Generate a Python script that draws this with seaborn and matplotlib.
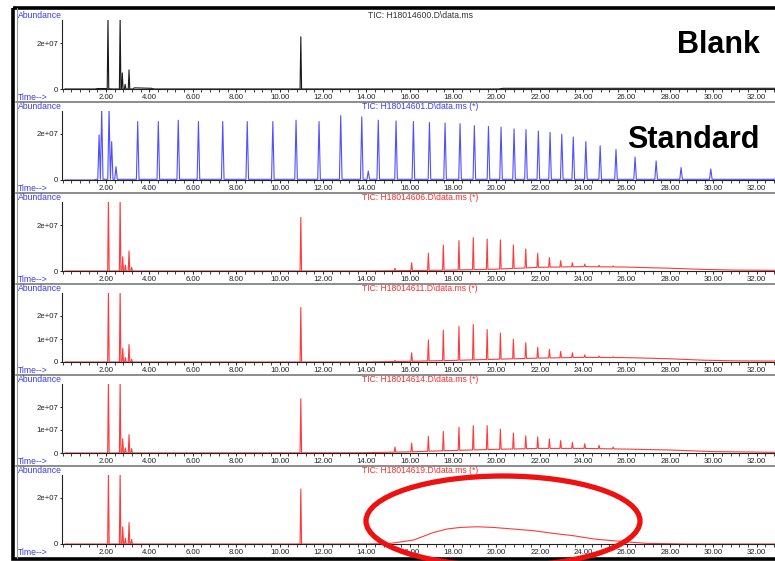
import numpy as np
import pandas as pd
import matplotlib
matplotlib.use("Agg")
import matplotlib.pyplot as plt
import seaborn as sns
from matplotlib.patches import Ellipse, Rectangle
from matplotlib.ticker import MultipleLocator

W, H = 775, 561

# ---- data ----
file_names = ["H18014600", "H18014601", "H18014606", "H18014611", "H18014614", "H18014619"]
file_flags = ["", " (*)", " (*)", " (*)", " (*)", " (*)"]
sample_labels = ["Blank", "Standard", "", "", "", ""]

# early solvent / internal-standard peaks (min, abundance at apex)
blank_peak_t = [2.09, 2.65, 2.75, 2.88, 3.06, 10.98]
blank_peak_h = [3.1e7, 3.1e7, 7.0e6, 2.0e6, 8.3e6, 2.27e7]
blank_base_t = [0.1, 1.5, 1.6, 2.0, 2.3, 3.25, 3.3, 4.1, 4.2, 20.1, 20.3, 32.84]
blank_base_y = [0, 0, 2e5, 2e5, 0, 0, 5e5, 3e5, 0, 0, 3e5, 3e5]

std_peak_t = [1.68, 1.80, 2.14, 2.26, 2.46, 3.46, 4.41, 5.33, 6.26, 7.38, 8.51, 9.69,
              10.76, 11.82, 12.82, 13.79, 14.09, 14.55, 15.37, 16.17, 16.91, 17.63,
              18.32, 18.98, 19.63, 20.21, 20.81, 21.36, 21.93, 22.47, 23.01, 23.54,
              24.12, 24.78, 25.51, 26.39, 27.36, 28.51, 29.88]
std_peak_h = [1.96e7, 3.1e7, 3.1e7, 1.67e7, 5.8e6, 2.54e7, 2.54e7, 2.6e7, 2.54e7, 2.54e7,
              2.54e7, 2.54e7, 2.6e7, 2.54e7, 2.8e7, 2.75e7, 3.9e6, 2.6e7, 2.57e7, 2.54e7,
              2.5e7, 2.48e7, 2.45e7, 2.36e7, 2.33e7, 2.3e7, 2.22e7, 2.19e7, 2.13e7,
              2.07e7, 1.99e7, 1.87e7, 1.67e7, 1.49e7, 1.33e7, 1.0e7, 8.3e6, 5.4e6, 4.8e6]
std_base_t = [0.1, 1.45, 1.55, 32.84]
std_base_y = [0, 0, 3e5, 3e5]

early_t = [2.11, 2.65, 2.77, 2.89, 3.06, 3.18, 10.98]
series_t = [15.32, 16.09, 16.86, 17.55, 18.27, 18.93, 19.57, 20.18, 20.78, 21.35,
            21.90, 22.44, 22.96, 23.50, 24.07, 24.73, 25.38]

s06_early_h = [3.1e7, 3.1e7, 6.2e6, 2.6e6, 8.7e6, 1.6e6, 2.33e7]
s06_series_h = [1.2e6, 3.6e6, 7.7e6, 1.13e7, 1.32e7, 1.45e7, 1.39e7, 1.35e7, 1.13e7,
                9.6e6, 7.7e6, 5.8e6, 4.5e6, 3.6e6, 3.0e6, 2.5e6, 2.2e6]
s06_base_t = [0.1, 14.0, 16.0, 18.0, 20.0, 22.0, 24.0, 26.0, 28.0, 29.5, 31.0, 32.84]
s06_base_y = [0, 0, 2e5, 4e5, 8e5, 1.6e6, 1.9e6, 1.7e6, 1.2e6, 7e5, 4e5, 3e5]

s11_early_h = [3.1e7, 3.1e7, 5.9e6, 1.9e6, 7.6e6, 1.2e6, 2.37e7]
s11_series_h = [7e5, 4.0e6, 9.6e6, 1.38e7, 1.55e7, 1.63e7, 1.41e7, 1.26e7, 9.9e6,
                8.4e6, 6.4e6, 5.5e6, 4.6e6, 4.0e6, 3.1e6, 2.6e6, 2.3e6]
s11_base_t = [0.1, 14.0, 16.0, 18.0, 20.0, 22.0, 24.0, 26.0, 28.0, 29.5, 31.0, 32.84]
s11_base_y = [0, 0, 3e5, 7e5, 1.2e6, 1.7e6, 2.0e6, 1.9e6, 1.4e6, 8e5, 5e5, 4e5]

s14_early_h = [3.1e7, 3.1e7, 6.2e6, 2.2e6, 8.0e6, 1.9e6, 2.36e7]
s14_series_h = [2.6e6, 4.3e6, 7.2e6, 9.4e6, 1.12e7, 1.19e7, 1.19e7, 1.04e7, 8.7e6,
                7.5e6, 7.0e6, 6.1e6, 5.4e6, 4.6e6, 4.0e6, 3.3e6, 2.6e6]
s14_base_t = [0.1, 13.8, 16.0, 18.0, 20.0, 22.0, 24.0, 26.0, 28.0, 30.0, 32.0, 32.84]
s14_base_y = [0, 1e5, 5e5, 1.1e6, 1.6e6, 2.0e6, 2.0e6, 1.7e6, 1.3e6, 6e5, 4e5, 3e5]

s19_early_h = [3.1e7, 3.1e7, 7.5e6, 2.5e6, 9.3e6, 2.0e6, 2.39e7]
s19_hump_t = [0.1, 14.0, 15.09, 16.17, 17.09, 17.71, 18.32, 19.08, 19.86, 20.78, 21.70,
              22.63, 23.55, 24.47, 25.39, 26.32, 26.93, 28.0, 28.73, 32.84]
s19_hump_y = [0, 0, 2.6e5, 1.7e6, 5.0e6, 6.5e6, 7.2e6, 7.5e6, 7.2e6, 6.5e6, 5.8e6,
              4.6e6, 3.6e6, 2.2e6, 1.4e6, 7e5, 2.6e5, 1.3e5, 0, 0]

y_ticks = [[0, 2e7], [0, 2e7], [0, 2e7], [0, 1e7, 2e7], [0, 1e7, 2e7], [0, 2e7]]
y_tick_labels = [["0", "2e+07"], ["0", "2e+07"], ["0", "2e+07"],
                 ["0", "1e+07", "2e+07"], ["0", "1e+07", "2e+07"], ["0", "2e+07"]]


def build_trace(peak_t, peak_h, base_t, base_y, hw):
    bt = np.asarray(base_t, float)
    by = np.asarray(base_y, float)
    pt = np.asarray(peak_t, float) if len(peak_t) else np.array([-99.0])
    keep = np.all(np.abs(bt[:, None] - pt[None, :]) > hw, axis=1)
    xs, ys = list(bt[keep]), list(by[keep])
    for t, h in zip(peak_t, peak_h):
        xs += [t - hw, t, t + hw]
        ys += [np.interp(t - hw, bt, by), h, np.interp(t + hw, bt, by)]
    order = np.argsort(xs, kind="stable")
    return pd.DataFrame({"time": np.array(xs)[order], "abundance": np.array(ys)[order]})


traces = [
    build_trace(blank_peak_t, blank_peak_h, blank_base_t, blank_base_y, 0.035),
    build_trace(std_peak_t, std_peak_h, std_base_t, std_base_y, 0.06),
    build_trace(early_t + series_t, s06_early_h + s06_series_h, s06_base_t, s06_base_y, 0.035),
    build_trace(early_t + series_t, s11_early_h + s11_series_h, s11_base_t, s11_base_y, 0.035),
    build_trace(early_t + series_t, s14_early_h + s14_series_h, s14_base_t, s14_base_y, 0.035),
    build_trace(early_t, s19_early_h, s19_hump_t, s19_hump_y, 0.035),
]

trace_colors = ["#1a1a1a", "#5050ff", "#ff3a3a", "#ff3a3a", "#ff3a3a", "#ff3a3a"]
title_colors = ["#333333", "#3c3cff", "#ff2e2e", "#ff2e2e", "#ff2e2e", "#ff2e2e"]
label_blue = "#3a3aee"

sns.set_theme(style="ticks")
plt.rcParams["font.family"] = ["Liberation Sans", "DejaVu Sans"]

fig = plt.figure(figsize=(W / 100, H / 100), dpi=100)
fig.patch.set_facecolor("white")

baselines = [89, 180, 271, 362, 453, 544]
x_left, x_right = 62, 775
plot_h = 69


def px_rect(x0, y_top, x1, y_bot):
    return [x0 / W, 1 - y_bot / H, (x1 - x0) / W, (y_bot - y_top) / H]


for i, b in enumerate(baselines):
    ax = fig.add_axes(px_rect(x_left, b - plot_h, x_right, b))
    ax.set_facecolor("white")
    sns.lineplot(data=traces[i], x="time", y="abundance", ax=ax, color=trace_colors[i],
                 linewidth=0.8, estimator=None, sort=False)
    ax.set_xlim(-0.03, 32.84)
    ax.set_ylim(0, 3e7)
    sns.despine(ax=ax)
    for side in ("left", "bottom"):
        ax.spines[side].set_linewidth(0.8)
        ax.spines[side].set_color("#222222")
    ax.xaxis.set_minor_locator(MultipleLocator(0.4))
    ax.set_xticks(np.arange(2, 33, 2))
    ax.set_xticklabels([f"{v:.2f}" for v in np.arange(2, 33, 2)])
    ax.set_yticks(y_ticks[i])
    ax.set_yticklabels(y_tick_labels[i])
    ax.tick_params(axis="x", which="major", length=2.2, width=0.7, pad=1.4,
                   labelsize=5.6, colors="#222222")
    ax.tick_params(axis="x", which="minor", length=1.8, width=0.6, colors="#222222")
    ax.tick_params(axis="y", length=1.8, width=0.7, pad=1.0, labelsize=5.6, colors="#222222")
    ax.set_xlabel("")
    ax.set_ylabel("")
    ax.grid(False)

# overlay in pixel coordinates for the instrument texts, frame and highlight
ov = fig.add_axes([0, 0, 1, 1], facecolor="none")
ov.set_xlim(0, W)
ov.set_ylim(H, 0)
ov.axis("off")

for i, b in enumerate(baselines):
    ov.text(18, b - 73.5, "Abundance", color=label_blue, fontsize=6.2, ha="left", va="center")
    ov.text(420, b - 73.5, f"TIC: {file_names[i]}.D\\data.ms{file_flags[i]}",
            color=title_colors[i], fontsize=6.2, ha="center", va="center")
    ov.text(18, b + 8.3, "Time-->", color=label_blue, fontsize=6.2, ha="left", va="center")
    if i < len(baselines) - 1:
        ov.plot([16, W], [b + 13, b + 13], color="#8c8c8c", lw=1.4)
    if sample_labels[i]:
        ov.text(760, b - 36 if i == 0 else b - 32, sample_labels[i], fontsize=22,
                fontweight="bold", color="black", ha="right", va="baseline")

ov.plot([16.5, 16.5], [8, 558], color="#9a9a9a", lw=0.8)
ov.add_patch(Rectangle((12.5, 7.5), 800, 551, fill=False, ec="black", lw=2.6))
ov.add_patch(Ellipse((503, 521), 274, 90, fill=False, ec="#ee1111", lw=3.8))

fig.savefig("out.png", dpi=100)
